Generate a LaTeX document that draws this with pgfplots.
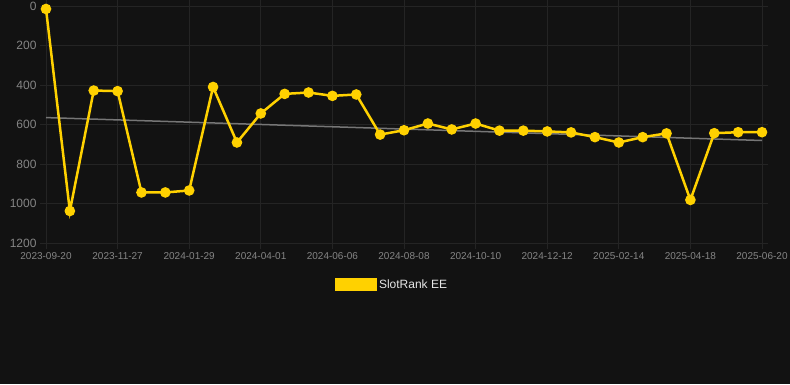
\documentclass[border=0pt]{standalone}
\usepackage{fontspec}
\setmainfont{Liberation Sans}
\usepackage{pgfplots}
\pgfplotsset{compat=1.18}
\definecolor{bg}{HTML}{121212}
\definecolor{gridc}{HTML}{242424}
\definecolor{tickc}{HTML}{858585}
\definecolor{gold}{HTML}{FFD100}
\definecolor{trend}{HTML}{767676}
\definecolor{legtext}{HTML}{E6E6E6}
\begin{document}
\begin{tikzpicture}
\fill[bg] (0pt,0pt) rectangle (790pt,384pt);
\useasboundingbox (0pt,0pt) rectangle (790pt,384pt);
\begin{axis}[
  at={(46pt,141pt)}, anchor=south west,
  scale only axis, width=716pt, height=237pt,
  xmin=0, xmax=30, ymin=0, ymax=1200, y dir=reverse,
  clip=false,
  axis line style={draw=none},
  grid=major, grid style={gridc, line width=0.8pt},
  tick align=outside, major tick length=6pt,
  tick style={gridc, line width=0.8pt},
  xtick={0,3,...,30},
  xticklabels={2023-09-20,2023-11-27,2024-01-29,2024-04-01,2024-06-06,2024-08-08,2024-10-10,2024-12-12,2025-02-14,2025-04-18,2025-06-20},
  ytick={0,200,...,1200},
  /pgf/number format/assume math mode=true,
  /pgf/number format/1000 sep={},
  xticklabel style={font=\fontsize{10}{12}\selectfont, text=tickc},
  yticklabel style={font=\fontsize{12}{14}\selectfont, text=tickc},
  legend style={at={(0.483,-0.175)}, anchor=center, draw=none, fill=none,
    text=legtext, font=\fontsize{12}{14}\selectfont},
]
\addplot[trend, line width=1.5pt, forget plot] coordinates {(0,565) (30,681)};
\addplot[gold, line width=2.5pt, mark=*, mark size=4pt,
  mark options={fill=gold, draw=gold},
  legend image code/.code={\fill[gold] (0pt,-5.5pt) rectangle (40pt,5.5pt);}]
 coordinates {
(0,15) (1,1038) (2,428) (3,431) (4,944) (5,944) (6,934) (7,410) (8,691) (9,544)
(10,445) (11,438) (12,455) (13,448) (14,651) (15,629) (16,595) (17,625) (18,595) (19,631)
(20,631) (21,635) (22,640) (23,664) (24,691) (25,664) (26,645) (27,982) (28,644) (29,639) (30,639)
};
\addlegendentry{SlotRank EE}
\end{axis}
\end{tikzpicture}
\end{document}
